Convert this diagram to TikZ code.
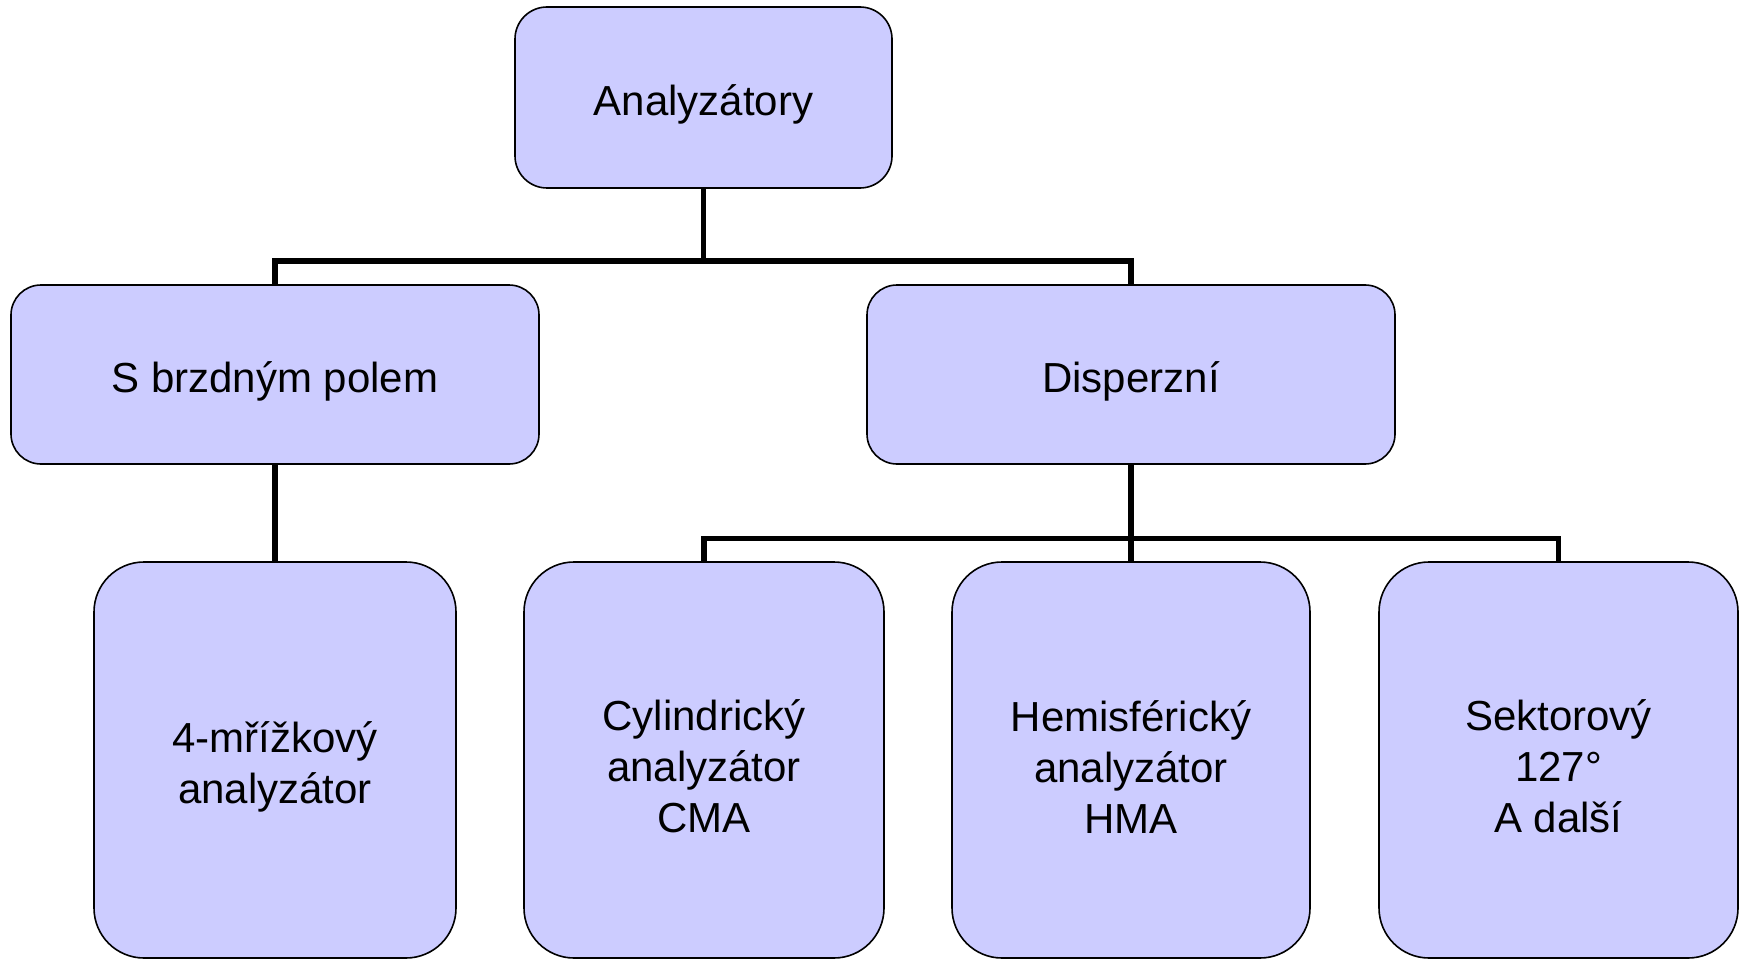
\documentclass[tikz,border=0pt]{standalone}
\usepackage{fontspec}
\setmainfont{Liberation Sans}
\newcommand{\lift}{\rule{0pt}{44pt}}
\begin{document}
\begin{tikzpicture}[x=1pt, y=-1pt,
    box/.style={draw, line width=1.6pt, fill=boxfill, rounded corners=#1,
        align=center, inner sep=0pt, font=\fontsize{42}{51}\selectfont},
    box/.default=32pt,
    link/.style={line width=5.5pt}]
    \definecolor{boxfill}{HTML}{CCCCFF}
    \useasboundingbox (0,0) rectangle (1747,960);

    % Boxes
    \node[box, minimum width=377pt, minimum height=181pt] (top) at (703.5, 97.5) {\lift Analyzátory};
    \node[box=30pt, minimum width=528pt, minimum height=179pt] (brzd) at (275, 374.5) {\lift S brzdným polem};
    \node[box=30pt, minimum width=528pt, minimum height=179pt] (disp) at (1131, 374.5) {\lift Disperzní};

    \node[box=50pt, minimum width=362pt, minimum height=396pt] (mriz) at (275, 760) {\lift 4-mřížkový\\analyzátor};
    \node[box=50pt, minimum width=360pt, minimum height=396pt] (cyl) at (704, 760) {\lift Cylindrický\\analyzátor\\CMA};
    \node[box=50pt, minimum width=358pt, minimum height=396pt] (hem) at (1131, 760) {\lift Hemisférický\\analyzátor\\HMA};
    \node[box=50pt, minimum width=359pt, minimum height=396pt] (sek) at (1558.5, 760) {\lift Sektorový\\127°\\A další};

    % Lines
    \coordinate (split1) at (703.5, 261);
    \coordinate (split2) at (1131, 538.5);

    \draw[link] (top.south) -- (split1);
    \draw[link] (brzd.north) |- (split1) -| (disp.north);
    \draw[link] (brzd.south) -- (mriz.north);

    \draw[link] (disp.south) -- (split2);
    \draw[link] (cyl.north) |- (split2) -| (sek.north);
    \draw[link] (split2) -- (hem.north);
\end{tikzpicture}
\end{document}
